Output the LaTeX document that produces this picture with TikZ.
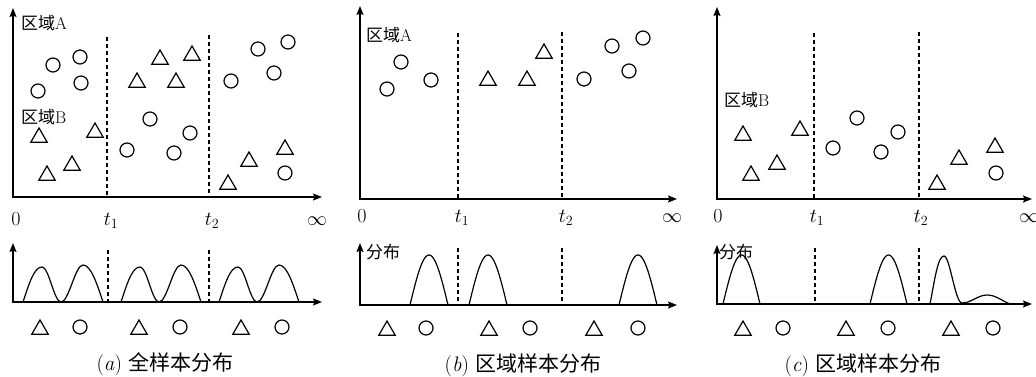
\RequirePackage{fix-cm}
\documentclass[tikz,border=0pt]{standalone}
\usepackage{fontspec}
\newfontfamily\cjk{Noto Sans CJK SC}
\usetikzlibrary{shapes.geometric, arrows.meta}

\begin{document}
\begin{tikzpicture}[
    x=1pt, y=-1pt,
    axes/.style={{Stealth[length=9pt,width=7pt,inset=1.5pt]}-{Stealth[length=9pt,width=7pt,inset=1.5pt]}, line width=1.3pt},
    split/.style={dash pattern=on 4pt off 3pt, line width=1.2pt},
    circ/.style={draw, circle, minimum size=14pt, inner sep=0pt, line width=1.2pt},
    tri/.style={draw, regular polygon, regular polygon sides=3, minimum size=19pt, inner sep=0pt, line width=1.2pt, yshift=-2.5pt},
    hump/.style={line width=1.2pt},
    ticklabel/.style={font=\fontsize{20}{20}\selectfont, anchor=base, inner sep=0pt},
    zone/.style={font=\fontsize{17}{17}\selectfont, anchor=west, inner sep=0pt},
    captext/.style={font=\fontsize{21}{21}\selectfont, inner sep=0pt}
]
\useasboundingbox (0,0) rectangle (1036,377);

% (a) all samples
\coordinate (ta-o) at (13,197);
\coordinate (ta-y) at (13,8);
\coordinate (ta-x) at (322,197);
\draw[axes] (ta-y) |- (ta-x);
\coordinate (ta-t1) at (107,37);
\coordinate (ta-t2) at (209,35);
\draw[split] (ta-t1) -- (ta-t1 |- ta-o);
\draw[split] (ta-t2) -- (ta-t2 |- ta-o);
\node[ticklabel] (ta-l0) at (16,225) {$0$};
\node[ticklabel] (ta-l1) at (111,225) {$t_1$};
\node[ticklabel] (ta-l2) at (212,225) {$t_2$};
\node[ticklabel] (ta-li) at (317,225) {$\infty$};
\node[zone] (ta-za) at (21,23) {{\cjk 区域}A};
\node[zone] (ta-zb) at (21,117) {{\cjk 区域}B};
\foreach \px/\py [count=\i] in {38/91, 53/65, 80/57, 81/83, 127/150, 150/119, 174/153,
    190/133, 231/81, 258/49, 288/42, 274/73, 285/173}
  \node[circ] (ta-c\i) at (\px,\py) {};
\foreach \px/\py [count=\i] in {39/135, 47/173, 72/163, 95/130, 137/80, 160/57, 176/80,
    192/53, 228/182, 249/159, 285/147}
  \node[tri] (ta-t\i) at (\px,\py) {};

\coordinate (ba-o) at (13,302);
\coordinate (ba-y) at (13,243);
\coordinate (ba-x) at (322,302);
\draw[axes] (ba-y) |- (ba-x);
\coordinate (ba-t1) at (108,250);
\coordinate (ba-t2) at (209,250);
\draw[split] (ba-t1) -- (ba-t1 |- ba-o);
\draw[split] (ba-t2) -- (ba-t2 |- ba-o);
\foreach \s in {23,121,219}
  \draw[hump] (\s,302) .. controls +(6,-18) and +(-8,0) .. (\s+19,267)
    .. controls +(7,0) and +(-7,0) .. (\s+38,302)
    .. controls +(8,0) and +(-8,0) .. (\s+60,265)
    .. controls +(8,0) and +(-6,-18) .. (\s+80,302);
\foreach \px [count=\i] in {40,139,241}
  \node[tri] (ba-t\i) at (\px,327) {};
\foreach \px [count=\i] in {80,180,282}
  \node[circ] (ba-c\i) at (\px,327) {};
\node[captext] (ba-cap) at (165,364) {(\textit{a})\ {\cjk 全样本分布}};

% (b) region A
\coordinate (tb-o) at (360,199);
\coordinate (tb-y) at (360,6);
\coordinate (tb-x) at (677,199);
\draw[axes] (tb-y) |- (tb-x);
\coordinate (tb-t1) at (458,33);
\coordinate (tb-t2) at (562,32);
\draw[split] (tb-t1) -- (tb-t1 |- tb-o);
\draw[split] (tb-t2) -- (tb-t2 |- tb-o);
\node[ticklabel] (tb-l0) at (362,222) {$0$};
\node[ticklabel] (tb-l1) at (462,222) {$t_1$};
\node[ticklabel] (tb-l2) at (566,222) {$t_2$};
\node[ticklabel] (tb-li) at (672,222) {$\infty$};
\node[zone] (tb-za) at (366,35) {{\cjk 区域}A};
\foreach \px/\py [count=\i] in {387/89, 401/62, 431/80, 584/79, 612/46, 643/38, 629/71}
  \node[circ] (tb-c\i) at (\px,\py) {};
\foreach \px/\py [count=\i] in {488/78, 527/78, 544/51}
  \node[tri] (tb-t\i) at (\px,\py) {};

\coordinate (bb-o) at (360,305);
\coordinate (bb-y) at (360,243);
\coordinate (bb-x) at (677,305);
\draw[axes] (bb-y) |- (bb-x);
\coordinate (bb-t1) at (458,248);
\coordinate (bb-t2) at (562,248);
\draw[split] (bb-t1) -- (bb-t1 |- bb-o);
\draw[split] (bb-t2) -- (bb-t2 |- bb-o);
\node[zone] (bb-d) at (366,252) {\cjk 分布};
\foreach \s in {410,469,619}
  \draw[hump] plot[domain=0:38, samples=40, smooth] ({\s+\x},{305-50*sin(180*\x/38)});
\foreach \px [count=\i] in {387,489,594}
  \node[tri] (bb-t\i) at (\px,328) {};
\foreach \px [count=\i] in {426,530,638}
  \node[circ] (bb-c\i) at (\px,328) {};
\node[captext] (bb-cap) at (523,365) {(\textit{b})\ {\cjk 区域样本分布}};

% (c) region B
\coordinate (tc-o) at (717,199);
\coordinate (tc-y) at (717,7);
\coordinate (tc-x) at (1032,199);
\draw[axes] (tc-y) |- (tc-x);
\coordinate (tc-t1) at (814,33);
\coordinate (tc-t2) at (919,32);
\draw[split] (tc-t1) -- (tc-t1 |- tc-o);
\draw[split] (tc-t2) -- (tc-t2 |- tc-o);
\node[ticklabel] (tc-l0) at (718,222) {$0$};
\node[ticklabel] (tc-l1) at (817,222) {$t_1$};
\node[ticklabel] (tc-l2) at (921,222) {$t_2$};
\node[ticklabel] (tc-li) at (1029,222) {$\infty$};
\node[zone] (tc-zb) at (724,100) {{\cjk 区域}B};
\foreach \px/\py [count=\i] in {743/133, 751/173, 777/162, 800/128, 937/182, 959/157, 995/145}
  \node[tri] (tc-t\i) at (\px,\py) {};
\foreach \px/\py [count=\i] in {833/148, 857/118, 881/152, 898/132, 996/173}
  \node[circ] (tc-c\i) at (\px,\py) {};

\coordinate (bc-o) at (717,304);
\coordinate (bc-y) at (717,245);
\coordinate (bc-x) at (1032,304);
\draw[axes] (bc-y) |- (bc-x);
\coordinate (bc-t1) at (815,248);
\coordinate (bc-t2) at (919,248);
\draw[split] (bc-t1) -- (bc-t1 |- bc-o);
\draw[split] (bc-t2) -- (bc-t2 |- bc-o);
\node[zone] (bc-d) at (719,252) {\cjk 分布};
\foreach \s in {723,870}
  \draw[hump] plot[domain=0:37, samples=40, smooth] ({\s+\x},{304-49*sin(180*\x/37)});
\draw[hump] (930,304) .. controls +(5,-26) and +(-6,0) .. (944,256)
  .. controls +(6,0) and +(-7,0) .. (962,303)
  .. controls +(9,0) and +(-9,0) .. (987,295)
  .. controls +(9,0) and +(-8,-3) .. (1010,304);
\foreach \px [count=\i] in {743,846,951}
  \node[tri] (bc-t\i) at (\px,328) {};
\foreach \px [count=\i] in {783,888,993}
  \node[circ] (bc-c\i) at (\px,328) {};
\node[captext] (bc-cap) at (863,365) {(\textit{c})\ {\cjk 区域样本分布}};
\end{tikzpicture}
\end{document}
